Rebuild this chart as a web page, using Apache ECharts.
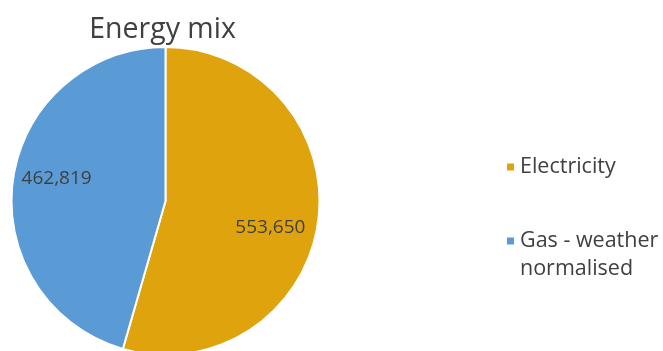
<!DOCTYPE html>
<html><head><meta charset="utf-8">
<script src="https://cdn.jsdelivr.net/npm/echarts@6/dist/echarts.min.js"></script>
<style>html,body{margin:0;padding:0;background:#fff}#c{width:663px;height:351px}</style>
</head><body><div id="c"></div>
<script>
const categories = ['Electricity', 'Gas - weather normalised'];
const values = [553650, 462819];
const legendLabels = ['Electricity', '\u00a0\nGas - weather\nnormalised'];

const colors = ['#DFA30E', '#5B9BD5'];
const labelOffsets = [[-8, 11], [4, -6]];
const FONT = 'Open Sans';
const chart = echarts.init(document.getElementById('c'));
const fmt = v => v.toLocaleString('en-US');
const center = [165.5, 201];
const R = 154;
chart.setOption({
  animation: false,
  color: colors,
  title: {
    text: 'Energy mix', left: 157.5, top: 10, textAlign: 'center',
    textStyle: {fontFamily: FONT, fontSize: 28.5, fontWeight: 'normal', color: '#404040'}
  },
  legend: {
    orient: 'vertical', left: 500, top: 148, itemWidth: 9, itemHeight: 9, itemGap: 18,
    icon: 'rect',
    data: categories,
    formatter: n => legendLabels[categories.indexOf(n)],
    textStyle: {fontFamily: FONT, fontSize: 21.5, color: '#404040', lineHeight: 28}
  },
  series: [{
    type: 'pie', center: center, radius: [0, R], startAngle: 90, clockwise: true,
    silent: true,
    itemStyle: {borderColor: '#fff', borderWidth: 2},
    label: {show: false}, labelLine: {show: false},
    data: categories.map((c, i) => ({name: c, value: values[i]}))
  }, {
    type: 'pie', center: center, radius: [68, R], startAngle: 90, clockwise: true,
    silent: true, legendHoverLink: false,
    itemStyle: {color: 'rgba(0,0,0,0)', borderWidth: 0},
    labelLine: {show: false},
    data: categories.map((c, i) => ({
      name: c, value: values[i],
      label: {show: true, position: 'inside', offset: labelOffsets[i],
        formatter: p => fmt(p.value),
        fontFamily: FONT, fontSize: 19, color: '#404040'}
    }))
  }]
});
</script></body></html>
